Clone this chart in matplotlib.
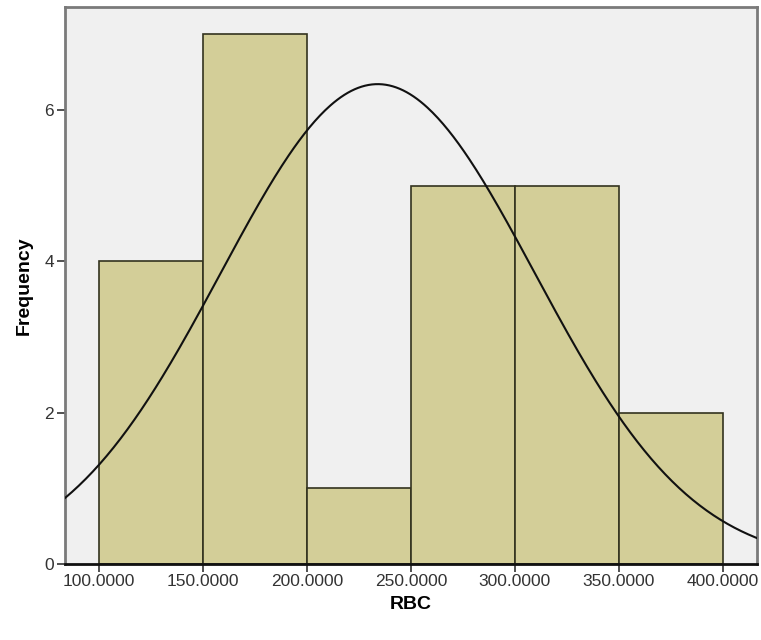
import numpy as np
import matplotlib
matplotlib.use("Agg")
import matplotlib.pyplot as plt

plt.rcParams['font.family'] = ['Liberation Sans', 'DejaVu Sans']

bin_edges = [100, 150, 200, 250, 300, 350, 400]
frequencies = [4, 7, 1, 5, 5, 2]
mean_rbc = 234.0
std_rbc = 75.5
n_total = sum(frequencies)
bin_width = 50
x_ticks = [100, 150, 200, 250, 300, 350, 400]
y_ticks = [0, 2, 4, 6]

fig = plt.figure(figsize=(7.61, 6.40), dpi=100)
ax = fig.add_axes([65/761, 1-564/640, (757-65)/761, (564-7)/640])
ax.set_facecolor('#F0F0F0')

lefts = bin_edges[:-1]
ax.bar(lefts, frequencies, width=bin_width, align='edge',
       color='#D3CE98', edgecolor='#33331f', linewidth=1.2, zorder=2)

xs = np.linspace(83.6, 416.4, 400)
ys = n_total * bin_width / (std_rbc * np.sqrt(2 * np.pi)) * np.exp(-0.5 * ((xs - mean_rbc) / std_rbc) ** 2)
ax.plot(xs, ys, color='#111111', linewidth=1.5, zorder=3)

ax.set_xlim(83.6, 416.4)
ax.set_ylim(0, 7.36)
ax.set_xticks(x_ticks)
ax.set_xticklabels([f"{v:.4f}" for v in x_ticks], fontsize=12.5, color='#333333')
ax.set_yticks(y_ticks)
ax.set_yticklabels([str(v) for v in y_ticks], fontsize=12.5, color='#333333')
ax.tick_params(axis='x', direction='out', length=6, width=1.2, color='#333333', pad=1)
ax.tick_params(axis='y', direction='out', length=6, width=1.2, color='#333333', pad=2)

for s in ['top', 'right', 'left']:
    ax.spines[s].set_color('#7a7a7a')
    ax.spines[s].set_linewidth(2)
ax.spines['bottom'].set_color('#111111')
ax.spines['bottom'].set_linewidth(2)

ax.set_xlabel('RBC', fontsize=14, fontweight='bold', labelpad=5)
ax.set_ylabel('Frequency', fontsize=14, fontweight='bold', labelpad=8)

fig.savefig('out.png', dpi=100)
